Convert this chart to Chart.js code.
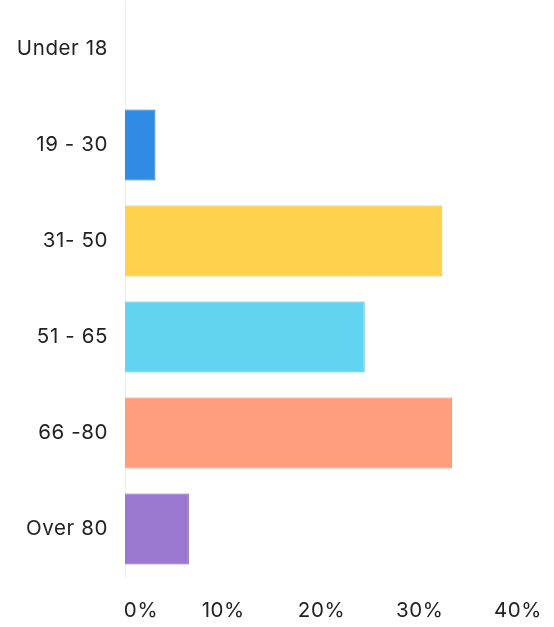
<!DOCTYPE html>
<html>
<head>
<meta charset="utf-8">
<script src="https://cdn.jsdelivr.net/npm/chart.js@4"></script>
<style>
  html, body { margin: 0; padding: 0; background: #fff; }
  #wrap { width: 554px; height: 627px; }
</style>
</head>
<body>
<div id="wrap"><canvas id="ageChart"></canvas></div>
<script>
// age groups and share of respondents (%)
const ageGroups = ['Under 18', '19 - 30', '31- 50', '51 - 65', '66 -80', 'Over 80'];
const shares = [0, 3.1, 32.3, 24.4, 33.3, 6.5];
const xTicks = [0, 10, 20, 30, 40];

const barColors = ['#2f8be4', '#2f8be4', '#fed24c', '#62d4f0', '#ff9e7c', '#9a78d0'];
const edgeColors = ['#2a6fb5', '#2a6fb5', '#e8b840', '#55b8d0', '#e08a6c', '#7b5fae'];

// the original type is a bit wider than Inter, add some tracking
const tracking = {
    id: 'tracking',
    beforeLayout(chart) { chart.ctx.letterSpacing = '0.6px'; },
    beforeDraw(chart) { chart.ctx.letterSpacing = '0.6px'; }
};

window.onload = function() {
    const ctx = document.getElementById('ageChart').getContext('2d');
    new Chart(ctx, {
        type: 'bar',
        data: {
            labels: ageGroups,
            datasets: [{
                data: shares,
                backgroundColor: barColors,
                borderColor: edgeColors,
                borderWidth: 1,
                categoryPercentage: 0.74,
                barPercentage: 1
            }]
        },
        plugins: [tracking],
        options: {
            indexAxis: 'y',
            responsive: true,
            maintainAspectRatio: false,
            animation: false,
            layout: { padding: { top: 1, right: 36, left: 0, bottom: 0 } },
            plugins: {
                legend: { display: false },
                tooltip: { enabled: false }
            },
            scales: {
                x: {
                    min: 0,
                    max: 40,
                    afterBuildTicks: (s) => { s.ticks = xTicks.map(v => ({ value: v })); },
                    afterFit: (s) => {
                        s.height = 50;
                        s.paddingLeft = 0;
                        s.paddingRight = 0;
                    },
                    grid: { display: false, drawTicks: false },
                    border: { display: false },
                    ticks: {
                        padding: 22,
                        color: '#222',
                        font: { family: 'Inter', size: 20.5 },
                        // first label sits flush with the axis in the original
                        callback: (v) => v === 0 ? '\u2003\u2002' + v + '%' : v + '%'
                    }
                },
                y: {
                    afterFit: (s) => {
                        s.width = 125;
                        s.paddingTop = 0;
                        s.paddingBottom = 0;
                    },
                    grid: { display: false, drawTicks: false },
                    border: { display: true, color: '#ececec', width: 1 },
                    ticks: {
                        padding: 17,
                        color: '#222',
                        font: { family: 'Inter', size: 20.5 }
                    }
                }
            }
        }
    });
};
</script>
</body>
</html>
